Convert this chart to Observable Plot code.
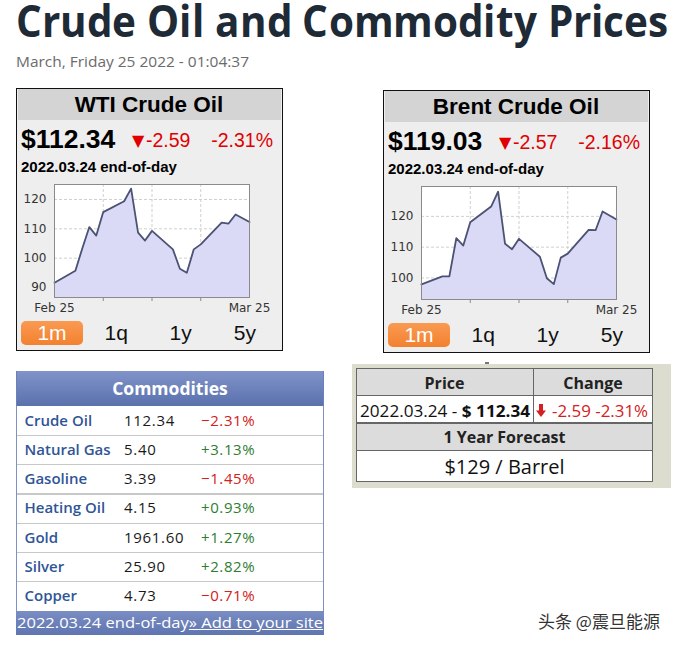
<!DOCTYPE html>
<html><head><meta charset="utf-8">
<script src="https://cdn.jsdelivr.net/npm/d3@7"></script>
<script src="https://cdn.jsdelivr.net/npm/@observablehq/plot@0.6"></script>
<style>
@font-face{font-family:"TitleOS";src:local("Open Sans Bold"),local("OpenSans-Bold");font-weight:700;ascent-override:80%;descent-override:22%;line-gap-override:0%;}
html,body{margin:0;padding:0;background:#fff;}
#root{position:relative;width:677px;height:646px;overflow:hidden;background:#fff;}
#root div{box-sizing:border-box;}
</style></head><body><div id="root"></div>
<script>
// ---------- data ----------
const titleText = "Crude Oil and Commodity Prices";
const subtitleText = "March, Friday 25 2022 - 01:04:37";
const dates = ["2022-02-25","2022-02-28","2022-03-01","2022-03-02","2022-03-03","2022-03-04",
  "2022-03-07","2022-03-08","2022-03-09","2022-03-10","2022-03-11",
  "2022-03-14","2022-03-15","2022-03-16","2022-03-17","2022-03-18",
  "2022-03-21","2022-03-22","2022-03-23","2022-03-25"];
const wtiValues = [91.6,95.7,103.4,110.6,107.7,115.7,119.4,123.7,108.7,106.0,109.3,103.0,96.4,95.0,103.0,104.7,112.1,111.8,114.9,112.3];
const brentValues = [97.9,100.5,100.5,112.9,110.5,118.1,123.2,128.0,111.1,109.3,112.7,106.9,99.9,98.0,106.6,107.9,115.6,115.5,121.6,119.0];
const axisDates = ["2022-02-25","2022-03-25"];
const weekTicks = ["2022-03-04","2022-03-11","2022-03-18"];
const wtiYTicks = [90,100,110,120];
const brentYTicks = [100,110,120];
const wtiYDomain = [86.6,125.1];
const brentYDomain = [93.0,129.7];
const rangeButtons = ["1m","1q","1y","5y"];
const widgets = [
  {name:"WTI Crude Oil", price:"$112.34", chg:"-2.59", pct:"-2.31%", values:wtiValues, yDomain:wtiYDomain, yTicks:wtiYTicks},
  {name:"Brent Crude Oil", price:"$119.03", chg:"-2.57", pct:"-2.16%", values:brentValues, yDomain:brentYDomain, yTicks:brentYTicks}
];
const eodText = "2022.03.24 end-of-day";
const commodityNames = ["Crude Oil","Natural Gas","Gasoline","Heating Oil","Gold","Silver","Copper"];
const commodityPrices = ["112.34","5.40","3.39","4.15","1961.60","25.90","4.73"];
const commodityChanges = ["\u22122.31%","+3.13%","\u22121.45%","+0.93%","+1.27%","+2.82%","\u22120.71%"];
const forecastHeaders = ["Price","Change"];
const forecastDate = "2022.03.24 - ";
const forecastPrice = "$ 112.34";
const forecastChange = "-2.59 -2.31%";
const forecastTitle = "1 Year Forecast";
const forecastValue = "$129 / Barrel";
const watermark = "头条 @震旦能源";

// ---------- helpers ----------
const root = document.getElementById("root");
const FAM = {lib:"'Liberation Sans', Arial, sans-serif", open:"'Open Sans', sans-serif",
  cjk:"'Noto Sans CJK SC', sans-serif", dj:"'DejaVu Sans', sans-serif", title:"'TitleOS', 'Open Sans', sans-serif"};
function esc(s) { return s.replace(/&/g, "&amp;").replace(/</g, "&lt;"); }
function box(x, y, w, h, css) {
  const d = document.createElement("div");
  d.style.cssText = `position:absolute;left:${x}px;top:${y}px;width:${w}px;height:${h}px;${css||""}`;
  root.appendChild(d); return d;
}
// places text so that its baseline sits at o.y (measured, metric independent)
function text(str, o) {
  const f = o.font || "lib", size = o.size;
  const L = o.lh || size;
  const el = document.createElement("div");
  el.style.cssText = `position:absolute;left:0;top:0;white-space:nowrap;font-family:${FAM[f]};font-size:${size}px;` +
    `font-weight:${o.weight||400};color:${o.color||"#000"};line-height:${L}px;${o.css||""}`;
  el.innerHTML = (o.html ? str : esc(str)) + '<span style="display:inline-block;width:0;height:0;"></span>';
  root.appendChild(el);
  const r0 = el.getBoundingClientRect();
  const base = el.lastChild.getBoundingClientRect().top - r0.top;
  el.style.top = (o.y - base) + "px";
  const w = r0.width;
  const sx = o.fitW ? o.fitW / w : 1;
  const rw = w * sx;
  const anchor = o.anchor || "start";
  const left = anchor === "middle" ? o.x - rw / 2 : anchor === "end" ? o.x - rw : o.x;
  el.style.left = left + "px";
  if (sx !== 1) { el.style.transformOrigin = "0 0"; el.style.transform = `scaleX(${sx})`; }
  return el;
}

function drawAll() {
// ---------- title ----------
text(titleText, {x:16, y:37, size:45, lh:36, font:"title", weight:700, color:"#1f2a37", fitW:652});
text(subtitleText, {x:16, y:67, size:14.5, font:"open", color:"#6b6b6b", fitW:233});

// ---------- widgets ----------
function chart(cfg) {
  const data = dates.map((d, i) => ({date: new Date(d), v: cfg.values[i]}));
  const wk = weekTicks.map(d => new Date(d));
  const xd = axisDates.map(d => new Date(d));
  const [y0, y1] = cfg.yDomain;
  const tickLen = (y1 - y0) * 4 / 113;
  return Plot.plot({
    width: 264, height: 135,
    marginLeft: 37, marginRight: 32, marginTop: 4, marginBottom: 18,
    style: {background: "transparent", color: "#333", fontFamily: "'DejaVu Sans', sans-serif", fontSize: "12px", overflow: "visible"},
    x: {type: "utc", domain: xd, ticks: xd, tickFormat: d3.utcFormat("%b %-d"), tickSize: 0, tickPadding: 6, label: null},
    y: {domain: cfg.yDomain, ticks: cfg.yTicks, tickSize: 0, tickPadding: 8, label: null},
    marks: [
      Plot.frame({fill: "white", stroke: "none"}),
      Plot.ruleY(cfg.yTicks, {stroke: "#cfcfcf", strokeDasharray: "3,2"}),
      Plot.ruleX(wk, {stroke: "#cfcfcf", strokeDasharray: "3,2"}),
      Plot.areaY(data, {x: "date", y1: y0, y2: "v", fill: "#dadaf7"}),
      Plot.lineY(data, {x: "date", y: "v", stroke: "#4b5274", strokeWidth: 1.8}),
      Plot.ruleX(wk, {y1: y0, y2: y0 - tickLen, stroke: "#888"}),
      Plot.frame({stroke: "#8a8a8a"})
    ]
  });
}
function widget(cfg, x0, y0) {
  box(x0, y0, 267, 263, "border:1px solid #111;background:#eeeeee;");
  box(x0 + 2, y0 + 1, 263, 31, "background:#d4d4d4;");
  text(cfg.name, {x: x0 + 133, y: y0 + 24, size: 22.5, weight: 700, anchor: "middle"});
  text(cfg.price, {x: x0 + 5, y: y0 + 60, size: 26.5, weight: 700});
  text("\u25BC", {x: x0 + 116, y: y0 + 58, size: 16, font: "dj", color: "#e00000"});
  text(cfg.chg, {x: x0 + 130, y: y0 + 59, size: 19.5, color: "#e00000"});
  text(cfg.pct, {x: x0 + 257, y: y0 + 59, size: 19.5, color: "#e00000", anchor: "end"});
  text(eodText, {x: x0 + 5, y: y0 + 84, size: 15, weight: 700});
  const svg = chart(cfg);
  const holder = box(x0 + 1, y0 + 92, 264, 135, "");
  holder.appendChild(svg);
  box(x0 + 5, y0 + 233, 62, 24, "border-radius:5px;background:linear-gradient(#fa9a52,#f2812f);");
  rangeButtons.forEach((b, i) => {
    text(b, {x: x0 + 36 + i * 64.3, y: y0 + 252, size: 21, color: i === 0 ? "#fff" : "#111", anchor: "middle"});
  });
}
widget(widgets[0], 16, 88);
widget(widgets[1], 383, 90);

// ---------- commodities table ----------
const TX = 16, TW = 308;
box(TX, 371, TW, 35, "background:linear-gradient(#8193c9,#5a71ad);border-left:1px solid #6b7fb8;border-right:1px solid #6b7fb8;");
text("Commodities", {x: TX + TW / 2, y: 395, size: 17.5, font: "open", weight: 700, color: "#fff", anchor: "middle"});
const rowH = 29.3, bodyTop = 406;
box(TX, bodyTop, TW, rowH * commodityNames.length, "background:#fff;border-left:1px solid #7f90c2;border-right:1px solid #7f90c2;");
commodityNames.forEach((n, i) => {
  const ry = bodyTop + i * rowH;
  if (i > 0) box(TX + 1, ry - (i === 3 ? 1 : 0.5), TW - 2, i === 3 ? 2 : 1, "background:#c8c8c8;");
  const by = ry + 19.5;
  text(n, {x: 24.5, y: by, size: 15, font: "open", weight: 600, color: "#2f5597"});
  text(commodityPrices[i], {x: 124, y: by, size: 15, font: "open", color: "#1a1a1a", css: "letter-spacing:0.7px;"});
  const c = commodityChanges[i];
  text(c, {x: 201, y: by, size: 15, font: "open", color: c.startsWith("+") ? "#2e7d32" : "#d32020", css: "letter-spacing:0.6px;"});
});
box(TX, 611, TW, 24, "background:linear-gradient(#7a8dc3,#5f75b0);");
text(eodText + '<span style="text-decoration:underline">\u00BB Add to your site</span>',
  {x: 17, y: 628, size: 15, font: "open", color: "#fff", html: true, fitW: 306});

// ---------- forecast table ----------
box(352, 364, 319, 124, "background:#dcdccf;");
box(485, 362, 4, 2, "background:#777;");
const cx = [356, 533, 653], ry = [368, 395, 423, 450, 482];
const cellCss = "border:1px solid #666;";
box(cx[0], ry[0], cx[1] - cx[0] + 1, ry[1] - ry[0] + 1, cellCss + "background:#dcdcdc;");
box(cx[1], ry[0], cx[2] - cx[1], ry[1] - ry[0] + 1, cellCss + "background:#dcdcdc;");
box(cx[0], ry[1], cx[1] - cx[0] + 1, ry[2] - ry[1] + 1, cellCss + "background:#fff;border-bottom-width:2px;");
box(cx[1], ry[1], cx[2] - cx[1], ry[2] - ry[1] + 1, cellCss + "background:#fff;border-bottom-width:2px;");
box(cx[0], ry[2], cx[2] - cx[0], ry[3] - ry[2] + 1, cellCss + "background:#dcdcdc;");
box(cx[0], ry[3], cx[2] - cx[0], ry[4] - ry[3], cellCss + "background:#fff;");
text(forecastHeaders[0], {x: (cx[0] + cx[1]) / 2, y: 389, size: 16, font: "open", weight: 700, color: "#222", anchor: "middle"});
text(forecastHeaders[1], {x: (cx[1] + cx[2]) / 2, y: 389, size: 16, font: "open", weight: 700, color: "#222", anchor: "middle"});
text(esc(forecastDate) + "<b>" + esc(forecastPrice) + "</b>", {x: 360, y: 416.5, size: 16.5, font: "open", color: "#111", html: true, fitW: 170});
const arrow = box(536, 403, 10, 13, "");
arrow.innerHTML = '<svg width="10" height="13" viewBox="0 0 10 13"><path d="M3 0h4v6.5h3L5 13 0 6.5h3z" fill="#d32020"/></svg>';
text(forecastChange, {x: 552, y: 416.5, size: 16.5, font: "open", color: "#d32020", fitW: 96});
text(forecastTitle, {x: (cx[0] + cx[2]) / 2, y: 443, size: 16, font: "open", weight: 700, color: "#222", anchor: "middle"});
text(forecastValue, {x: (cx[0] + cx[2]) / 2, y: 474, size: 20, font: "open", color: "#111", anchor: "middle"});

// ---------- watermark ----------
text(watermark, {x: 538, y: 628, size: 17, font: "cjk", color: "#333", css: "text-shadow:0 0 2px #fff;"});
}

document.fonts.load("700 45px TitleOS").catch(() => {}).then(drawAll, drawAll);
</script></body></html>
